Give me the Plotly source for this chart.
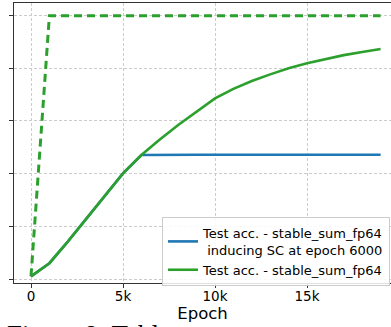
import plotly.graph_objects as go

epochs = [0, 1000, 2000, 3000, 4000, 5000, 6000, 7000, 8000, 9000, 10000,
          11000, 12000, 13000, 14000, 15000, 16000, 17000, 18000, 19000]
sc_acc = [0.01, 0.06, 0.142, 0.228, 0.316, 0.401, 0.471, 0.472, 0.472, 0.472,
          0.472, 0.472, 0.472, 0.472, 0.472, 0.472, 0.472, 0.472, 0.472, 0.472]
test_acc = [0.01, 0.06, 0.142, 0.228, 0.316, 0.401, 0.471, 0.53, 0.585, 0.637,
            0.686, 0.722, 0.752, 0.777, 0.800, 0.819, 0.835, 0.850, 0.862, 0.873]
train_acc = [0.01, 1.0, 1.0, 1.0, 1.0, 1.0, 1.0, 1.0, 1.0, 1.0, 1.0,
             1.0, 1.0, 1.0, 1.0, 1.0, 1.0, 1.0, 1.0, 1.0]

x_tickvals = [0, 5000, 10000, 15000]
x_ticktext = ["0", "5k", "10k", "15k"]
y_tickvals = [0.0, 0.2, 0.4, 0.6, 0.8, 1.0]

name_sc = "Test acc. - stable_sum_fp64<br>\u00a0inducing SC at epoch 6000"
name_test = "Test acc. - stable_sum_fp64"
caption = "Figure 8: Table"

BLUE = "#1f77b4"
GREEN = "#2ca02c"

fig = go.Figure()
fig.add_trace(go.Scatter(x=epochs, y=train_acc, mode="lines", showlegend=False,
                         line=dict(color=GREEN, width=3, dash="8px,5px")))
fig.add_trace(go.Scatter(x=epochs, y=sc_acc, mode="lines", name=name_sc,
                         line=dict(color=BLUE, width=2.6)))
fig.add_trace(go.Scatter(x=epochs, y=test_acc, mode="lines", name=name_test,
                         line=dict(color=GREEN, width=2.6)))

fig.update_layout(
    width=391, height=327,
    margin=dict(l=14, r=0, t=3, b=44),
    plot_bgcolor="white", paper_bgcolor="white",
    font=dict(family="DejaVu Sans", size=13, color="black"),
    legend=dict(x=0.3926, y=0.2357, xanchor="left", yanchor="top",
                bgcolor="rgba(255,255,255,0.85)", bordercolor="#cccccc",
                borderwidth=1, font=dict(size=13), tracegroupgap=0),
    xaxis=dict(range=[-924, 19565], tickvals=x_tickvals, ticktext=x_ticktext,
               showline=True, linecolor="#333333", linewidth=1.2, mirror=True,
               ticks="outside", ticklen=4, tickcolor="#333333",
               showgrid=True, gridcolor="#cccccc", gridwidth=0.8, griddash="3px,2px",
               zeroline=False, tickfont=dict(size=13.5), ticklabelstandoff=-3,
               title=dict(text="Epoch", font=dict(size=16.5), standoff=3)),
    yaxis=dict(range=[-0.0152, 1.048], tickvals=y_tickvals, showticklabels=False,
               showline=True, linecolor="#333333", linewidth=1.2, mirror=False,
               ticks="outside", ticklen=4, tickcolor="#333333",
               showgrid=True, gridcolor="#cccccc", gridwidth=0.8, griddash="3px,2px",
               zeroline=False),
    annotations=[dict(text=caption, xref="paper", yref="paper", x=-0.025, y=-0.125,
                      xanchor="left", yanchor="top", showarrow=False,
                      font=dict(family="Liberation Serif", size=27, color="black"))],
)

fig.write_html("out.html")
